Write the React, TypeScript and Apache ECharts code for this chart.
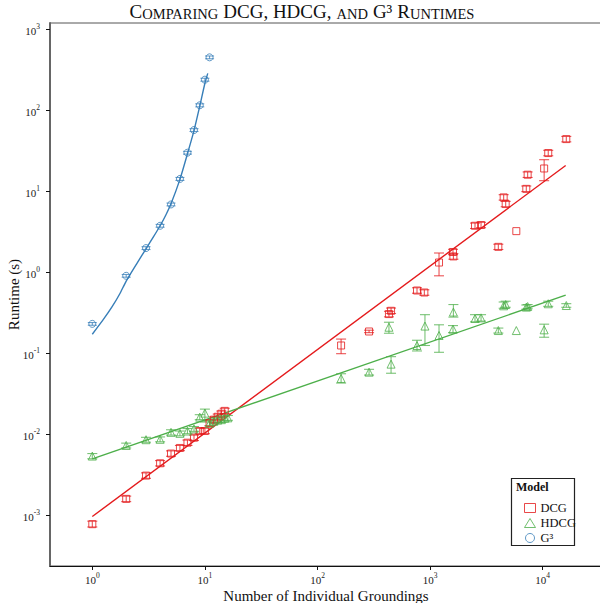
import React, { useEffect, useRef } from "react";
import * as echarts from "echarts";

// ---- data ----
const dcgN = [1, 2, 3, 4, 5, 6, 7, 8, 9, 10, 11, 12, 13, 14, 15, 162, 287, 431, 450, 765, 889, 1200, 1597, 1610, 2505, 2834, 4036, 4500, 4690, 5830, 7150, 7350, 10300, 11200, 16200];
const dcgV = [0.00078, 0.0016, 0.0031, 0.0044, 0.0058, 0.0068, 0.0079, 0.0091, 0.011, 0.011, 0.0138, 0.0152, 0.0165, 0.018, 0.0195, 0.125, 0.186, 0.305, 0.335, 0.596, 0.563, 1.32, 1.78, 1.57, 3.75, 3.83, 2.06, 8.4, 6.95, 3.22, 10.7, 16, 19.1, 29.6, 44];
const dcgLo = [0.00072, 0.00148, 0.00287, 0.00408, 0.00537, 0.0063, 0.0073, 0.0084, 0.0102, 0.0102, 0.0128, 0.0141, 0.0153, 0.0167, 0.0181, 0.099, 0.18, 0.282, 0.31, 0.552, 0.521, 0.905, 1.65, 1.45, 3.47, 3.55, 1.91, 7.78, 6.44, null, 9.9, 14.8, 13.5, 27.4, 40.7];
const dcgHi = [0.00085, 0.00173, 0.00335, 0.00475, 0.00626, 0.0073, 0.0085, 0.0098, 0.0119, 0.0119, 0.0149, 0.0164, 0.0178, 0.0194, 0.021, 0.15, 0.193, 0.33, 0.362, 0.644, 0.608, 1.73, 1.92, 1.7, 4.05, 4.14, 2.22, 9.07, 7.5, null, 11.6, 17.3, 24.5, 32, 47.5];

const hdcgN = [1, 2, 3, 4, 5, 6, 7, 8, 9, 10, 11, 12, 13, 14, 15, 16, 162, 287, 431, 450, 765, 900, 1200, 1597, 1610, 2505, 2834, 4036, 4500, 4690, 5830, 7150, 7350, 10300, 11200, 16200];
const hdcgV = [0.0054, 0.0073, 0.0086, 0.0087, 0.0106, 0.0103, 0.011, 0.0117, 0.0163, 0.0183, 0.0137, 0.0145, 0.015, 0.0152, 0.0158, 0.016, 0.049, 0.0586, 0.21, 0.0736, 0.125, 0.217, 0.166, 0.199, 0.323, 0.269, 0.274, 0.191, 0.386, 0.4, 0.191, 0.372, 0.378, 0.195, 0.409, 0.389];
const hdcgLo = [0.005, 0.0068, 0.008, 0.0081, 0.0098, 0.0096, 0.0102, 0.0109, 0.0152, 0.0142, 0.0127, 0.0135, 0.014, 0.0141, 0.0147, 0.0149, 0.043, 0.054, 0.177, 0.0568, 0.107, 0.125, 0.103, 0.18, 0.28, 0.245, 0.25, 0.178, 0.36, 0.37, null, 0.35, 0.355, 0.158, 0.38, 0.37];
const hdcgHi = [0.0058, 0.0078, 0.0092, 0.0093, 0.0114, 0.011, 0.0118, 0.0125, 0.0175, 0.0205, 0.0147, 0.0155, 0.016, 0.0163, 0.0169, 0.0171, 0.056, 0.0635, 0.242, 0.091, 0.145, 0.3, 0.225, 0.22, 0.4, 0.3, 0.3, 0.205, 0.43, 0.44, null, 0.395, 0.4, 0.229, 0.44, 0.41];

const g3N = [1, 2, 3, 4, 5, 6, 7, 8, 9, 10, 11];
const g3V = [0.231, 0.905, 1.99, 3.75, 6.87, 14.2, 29.9, 56.9, 115, 238, 449];
const g3Lo = [0.222, 0.87, 1.91, 3.6, 6.6, 13.6, 28.7, 54.6, 110, 228, 431];
const g3Hi = [0.24, 0.94, 2.07, 3.9, 7.15, 14.8, 31.1, 59.2, 120, 248, 467];

// fitted lines
const dcgFitN = [1, 16000];
const dcgFitV = [0.00097, 20.8];
const hdcgFitN = [1, 16000];
const hdcgFitV = [0.00499, 0.523];
const g3FitN = [1, 1.25, 1.5, 1.75, 2, 2.5, 3, 3.5, 4, 4.5, 5, 6, 7, 8, 9, 10, 10.6];
const g3FitV = [0.172, 0.26, 0.376, 0.54, 0.78, 1.3, 1.95, 2.75, 3.75, 5.1, 7.0, 14, 29, 56, 112, 215, 285];

const xTicks = [1, 10, 100, 1000, 10000];
const yTicks = [0.001, 0.01, 0.1, 1, 10, 100, 1000];

const RED = "#e41a1c";
const GREEN = "#4daf4a";
const BLUE = "#377eb8";
const FONT = "Liberation Serif, DejaVu Serif, serif";

const zip = (a: number[], b: number[]) => a.map((v, i) => [v, b[i]]);
const errData = (n: number[], lo: (number | null)[], hi: (number | null)[]) =>
  n.map((v, i) => [v, lo[i], hi[i]]).filter((d) => d[1] != null && d[2] != null);

const errSeries = (name: string, data: any[], color: string, cap: number) => ({
  type: "custom",
  name,
  data,
  z: 3,
  silent: true,
  encode: { x: 0, y: [1, 2] },
  renderItem: (params: any, api: any) => {
    const n = api.value(0);
    const p1 = api.coord([n, api.value(1)]);
    const p2 = api.coord([n, api.value(2)]);
    const style = { stroke: color, lineWidth: 1.1, opacity: 0.75 };
    return {
      type: "group",
      children: [
        { type: "line", shape: { x1: p1[0], y1: p1[1], x2: p2[0], y2: p2[1] }, style },
        { type: "line", shape: { x1: p1[0] - cap, y1: p1[1], x2: p1[0] + cap, y2: p1[1] }, style },
        { type: "line", shape: { x1: p2[0] - cap, y1: p2[1], x2: p2[0] + cap, y2: p2[1] }, style },
      ],
    };
  },
});

const tickLabel = (v: number) => {
  const e = Math.round(Math.log10(v));
  return `{b|10}{s|${e}}`;
};
const tickRich = {
  b: { fontSize: 11, fontFamily: FONT, color: "#222", lineHeight: 14, verticalAlign: "bottom" },
  s: { fontSize: 7.5, fontFamily: FONT, color: "#222", lineHeight: 8, verticalAlign: "top" },
};

export default function App() {
  const ref = useRef<HTMLDivElement>(null);
  useEffect(() => {
    if (!ref.current) return;
    const chart = echarts.init(ref.current, undefined, { renderer: "svg" });
    const option: any = {
      animation: false,
      backgroundColor: "#fff",
      title: {
        text: "{b|C}{s|OMPARING} {b|DCG, HDCG,} {s|AND} {b|G³} {b|R}{s|UNTIMES}",
        left: 302,
        textAlign: "center",
        top: 1,
        padding: 0,
        textStyle: {
          fontWeight: "normal",
          rich: {
            b: { fontSize: 19, fontWeight: "normal", fontFamily: FONT, color: "#111", verticalAlign: "bottom", lineHeight: 20 },
            s: { fontSize: 14.5, fontWeight: "normal", fontFamily: FONT, color: "#111", verticalAlign: "bottom", lineHeight: 20 },
          },
        },
      },
      grid: {
        left: 50,
        right: -2,
        top: 23,
        bottom: 37,
        outerBoundsMode: "none",
        containLabel: false,
        show: true,
        borderColor: "#555",
        borderWidth: 1,
        backgroundColor: "transparent",
      },
      xAxis: {
        type: "log",
        logBase: 10,
        min: Math.pow(10, -0.3757),
        max: Math.pow(10, 4.5266),
        splitLine: { show: false },
        minorTick: { show: false },
        axisLine: { show: true, lineStyle: { color: "#111", width: 1 } },
        axisTick: { show: true, length: 4, inside: false, customValues: xTicks, lineStyle: { color: "#111" } },
        axisLabel: { customValues: xTicks, formatter: tickLabel, rich: tickRich, margin: 5 },
        name: "Number of Individual Groundings",
        nameLocation: "middle",
        nameGap: 22,
        nameMoveOverlap: false,
        nameTextStyle: { fontFamily: FONT, fontSize: 15, color: "#111" },
      },
      yAxis: {
        type: "log",
        logBase: 10,
        min: Math.pow(10, -3.624),
        max: Math.pow(10, 3.076),
        splitLine: { show: false },
        minorTick: { show: false },
        axisLine: { show: true, lineStyle: { color: "#666", width: 2 } },
        axisTick: { show: true, length: 4, inside: false, customValues: yTicks, lineStyle: { color: "#111" } },
        axisLabel: { customValues: yTicks, formatter: tickLabel, rich: tickRich, margin: 10 },
        name: "Runtime (s)",
        nameLocation: "middle",
        nameGap: 29,
        nameMoveOverlap: false,
        nameTextStyle: { fontFamily: FONT, fontSize: 15, color: "#111" },
      },
      legend: {
        data: [
          { name: "DCG", icon: "rect", itemStyle: { color: "transparent", borderColor: RED, borderWidth: 1 } },
          { name: "HDCG", icon: "triangle", itemStyle: { color: "transparent", borderColor: GREEN, borderWidth: 1 } },
          { name: "G³", icon: "circle", itemStyle: { color: "transparent", borderColor: BLUE, borderWidth: 1 } },
        ],
        orient: "vertical",
        left: 519,
        top: 496,
        itemWidth: 11,
        itemHeight: 9,
        itemGap: 1,
        selectedMode: false,
        z: 6,
        textStyle: { fontFamily: FONT, fontSize: 12.5, color: "#111", lineHeight: 14 },
      },
      graphic: [
        {
          type: "rect",
          z: 5,
          shape: { x: 511.5, y: 478.5, width: 63, height: 67 },
          style: { fill: "#fff", stroke: "#222", lineWidth: 1.2 },
        },
        {
          type: "text",
          z: 6,
          x: 516,
          y: 481,
          style: { text: "Model", font: `bold 12px ${FONT}`, fill: "#111" },
        },
      ],
      series: [
        {
          type: "line",
          name: "DCG fit",
          data: zip(dcgFitN, dcgFitV),
          showSymbol: false,
          lineStyle: { color: RED, width: 1.4 },
          z: 1,
          silent: true,
        },
        {
          type: "line",
          name: "HDCG fit",
          data: zip(hdcgFitN, hdcgFitV),
          showSymbol: false,
          lineStyle: { color: GREEN, width: 1.4 },
          z: 1,
          silent: true,
        },
        {
          type: "line",
          name: "G3 fit",
          data: zip(g3FitN, g3FitV),
          showSymbol: false,
          smooth: 0.2,
          lineStyle: { color: BLUE, width: 1.4 },
          z: 1,
          silent: true,
        },
        errSeries("DCG err", errData(dcgN, dcgLo, dcgHi), RED, 5),
        errSeries("HDCG err", errData(hdcgN, hdcgLo, hdcgHi), GREEN, 5),
        errSeries("G3 err", errData(g3N, g3Lo, g3Hi), BLUE, 4.5),
        {
          type: "scatter",
          name: "DCG",
          data: zip(dcgN, dcgV),
          symbol: "rect",
          symbolSize: 7,
          itemStyle: { color: "transparent", borderColor: RED, borderWidth: 1 },
          z: 4,
          silent: true,
        },
        {
          type: "scatter",
          name: "HDCG",
          data: zip(hdcgN, hdcgV),
          symbol: "triangle",
          symbolSize: 8,
          itemStyle: { color: "transparent", borderColor: GREEN, borderWidth: 1 },
          z: 4,
          silent: true,
        },
        {
          type: "scatter",
          name: "G³",
          data: zip(g3N, g3V),
          symbol: "circle",
          symbolSize: 7,
          itemStyle: { color: "transparent", borderColor: BLUE, borderWidth: 1 },
          z: 4,
          silent: true,
        },
      ],
    };
    chart.setOption(option);
    return () => chart.dispose();
  }, []);
  return (
    <div
      ref={ref}
      style={{ position: "absolute", left: 0, top: 0, width: 600, height: 603, background: "#fff" }}
    />
  );
}
